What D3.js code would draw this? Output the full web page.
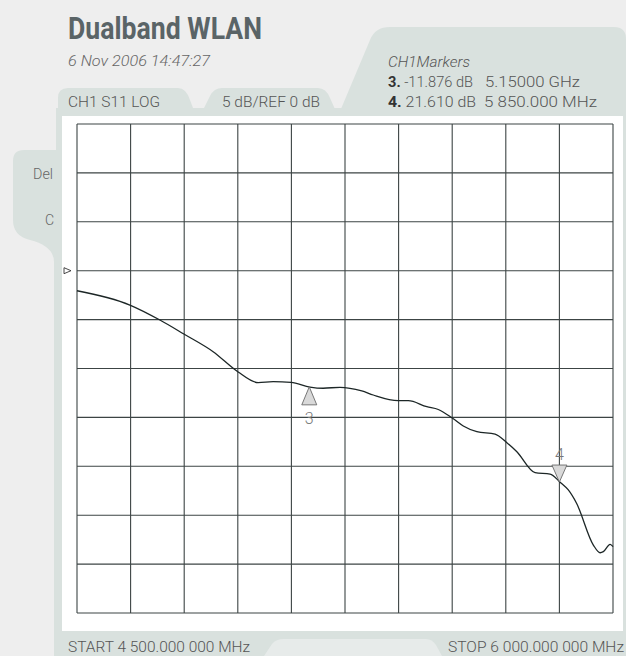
<!DOCTYPE html>
<html>
<head>
<meta charset="utf-8">
<script src="https://cdn.jsdelivr.net/npm/d3@7"></script>
<style>
  body { margin: 0; background: #eeeeee; }
  svg { display: block; }
  text { font-family: Roboto, "Liberation Sans", sans-serif; }
</style>
</head>
<body>
<div id="chart"></div>
<script>
// trace (CH1 S11, log mag)
const freqGHz = [4.500, 4.648, 4.732, 4.799, 4.881, 4.950, 5.007, 5.049, 5.099, 5.152,
  5.189, 5.236, 5.297, 5.329, 5.399, 5.427, 5.479, 5.511, 5.551, 5.581, 5.619, 5.670,
  5.703, 5.731, 5.782, 5.824, 5.852, 5.875, 5.898, 5.945, 5.964, 5.973, 5.992, 6.000];
const s11dB = [-2.05, -3.51, -5.04, -6.47, -8.28, -10.33, -11.45, -11.35, -11.41, -11.90,
  -12.02, -11.92, -12.30, -12.71, -13.29, -13.29, -13.91, -14.19, -15.09, -15.88, -16.46, -16.70,
  -17.59, -18.51, -20.65, -20.79, -21.62, -22.42, -23.78, -28.05, -28.84, -28.73, -27.98, -28.22];

const markerIds = ["3", "4"];
const markerFreq = [5.15, 5.85];
const markerDb = [-11.876, -21.61];
const markerDir = ["up", "down"];
const markerReadout = ["-11.876 dB", "21.610 dB"];
const markerFreqText = ["5.15000 GHz", "5 850.000 MHz"];

const xDivs = d3.range(0, 11).map(i => 4.5 + i * 0.15);
const yDivs = d3.range(0, 11).map(i => 15 - i * 5);

const svgWidth = 626, svgHeight = 656;
const tab = "#d9e1de";

const svg = d3.select("#chart").append("svg")
    .attr("width", svgWidth)
    .attr("height", svgHeight);

svg.append("rect").attr("width", svgWidth).attr("height", svgHeight).attr("fill", "#eeeeee");

// frame + tabs
svg.append("rect").attr("x", 56).attr("y", 108).attr("width", 570).attr("height", 548).attr("fill", tab);
svg.append("path").attr("fill", tab)
    .attr("d", "M58,116 L58,98 Q58,88 68,88 L178,88 Q186,88 190,100 L196,116 Z");
svg.append("path").attr("fill", tab)
    .attr("d", "M200,116 L210,96 Q214,88 222,88 L318,88 Q326,88 330,98 L338,116 Z");
svg.append("path").attr("fill", tab)
    .attr("d", "M338,116 L370,40 Q375,27 390,27 L614,27 Q626,27 626,39 L626,116 Z");
// left side tab
svg.append("path").attr("fill", tab)
    .attr("d", "M62,150 L24,150 Q13,150 13,161 L13,220 Q13,236 30,240 Q54,246 54,262 L54,656 L62,656 Z");
// bottom cut-out
svg.append("path").attr("fill", "#e7ebea")
    .attr("d", "M264,656 L272,644 Q276,639 284,639 L426,639 Q432,639 436,645 L442,656 Z");

// white screen
svg.append("rect").attr("x", 62).attr("y", 116).attr("width", 561).attr("height", 515).attr("fill", "#ffffff");

const x = d3.scaleLinear().domain([4.5, 6.0]).range([77, 613]);
const y = d3.scaleLinear().domain([15, -35]).range([124, 613]);

const grid = svg.append("g").attr("stroke", "#3c4444").attr("stroke-width", 1.1);
grid.selectAll("line.v").data(xDivs).enter().append("line")
    .attr("x1", d => x(d)).attr("x2", d => x(d))
    .attr("y1", y(15)).attr("y2", y(-35));
grid.selectAll("line.h").data(yDivs).enter().append("line")
    .attr("y1", d => y(d)).attr("y2", d => y(d))
    .attr("x1", x(4.5)).attr("x2", x(6.0));

// reference arrow at 0 dB
svg.append("path")
    .attr("d", `M64,${y(0) - 3} L71,${y(0)} L64,${y(0) + 3} Z`)
    .attr("fill", "none").attr("stroke", "#333").attr("stroke-width", 0.9);

// trace
const line = d3.line()
    .x((d, i) => x(freqGHz[i]))
    .y(d => y(d))
    .curve(d3.curveMonotoneX);

svg.append("path")
    .datum(s11dB)
    .attr("d", line)
    .attr("fill", "none")
    .attr("stroke", "#1c2626")
    .attr("stroke-width", 1.3);

// markers
markerIds.forEach((id, i) => {
    const mx = x(markerFreq[i]), my = y(markerDb[i]);
    const up = markerDir[i] === "up";
    const by = up ? my + 18 : my - 17;
    svg.append("path")
        .attr("d", `M${mx},${my} L${mx - 7.5},${by} L${mx + 7.5},${by} Z`)
        .attr("fill", "#d9d9d9").attr("stroke", "#6a6a6a").attr("stroke-width", 0.9);
    svg.append("text")
        .attr("x", mx).attr("y", up ? by + 19 : by - 5)
        .attr("text-anchor", "middle")
        .attr("font-size", 16).attr("font-weight", 300).attr("fill", "#777")
        .text(id);
});

// texts
function label(txt, tx, ty, size, opts = {}) {
    const t = svg.append("text")
        .attr("x", tx).attr("y", ty)
        .attr("font-size", size)
        .attr("font-weight", opts.weight || 300)
        .attr("font-style", opts.italic ? "italic" : "normal")
        .attr("fill", opts.fill || "#555")
        .text(txt);
    if (opts.width) t.attr("textLength", opts.width).attr("lengthAdjust", "spacingAndGlyphs");
    if (opts.anchor) t.attr("text-anchor", opts.anchor);
    return t;
}

label("Dualband WLAN", 68, 39, 32, { weight: 700, fill: "#5a6467", width: 194 });
label("6 Nov 2006 14:47:27", 68, 66, 14, { italic: true, fill: "#666", width: 142 });
label("CH1 S11 LOG", 68, 107, 14, { width: 92 });
label("5 dB/REF 0 dB", 222, 107, 14, { width: 98 });
label("CH1Markers", 388, 67, 14, { italic: true, width: 82 });

// marker readouts: bold number + value in one text
const readW = [85, 88];
const freqW = [95, 113];
markerIds.forEach((id, i) => {
    const ty = 87 + i * 20;
    const t = svg.append("text")
        .attr("x", 388).attr("y", ty)
        .attr("font-size", 14).attr("font-weight", 300).attr("fill", "#555")
        .attr("textLength", readW[i]).attr("lengthAdjust", "spacingAndGlyphs");
    t.append("tspan").attr("font-weight", 700).attr("fill", "#333").text(id + ".");
    t.append("tspan").text(" " + markerReadout[i]);
    label(markerFreqText[i], 485 - i, ty, 14, { width: freqW[i] });
});

label("Del", 33, 179, 14, { width: 20, fill: "#666" });
label("C", 45, 225, 14, { fill: "#666" });

label("START 4 500.000 000 MHz", 68, 652, 14, { width: 182 });
label("STOP 6 000.000 000 MHz", 448, 652, 14, { width: 176 });
</script>
</body>
</html>
